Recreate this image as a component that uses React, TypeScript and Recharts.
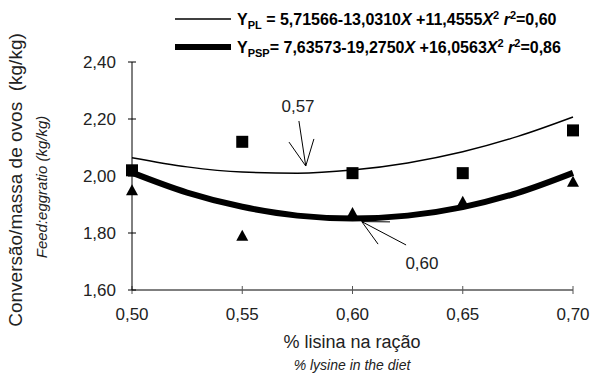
import { ComposedChart, Line, Scatter, XAxis, YAxis, ReferenceLine, ReferenceDot } from 'recharts';

const xTicks = [0.5, 0.55, 0.6, 0.65, 0.7];
const yTicks = [1.6, 1.8, 2.0, 2.2, 2.4];

// observed means
const lysine = [0.5, 0.55, 0.6, 0.65, 0.7];
const plObserved = [2.02, 2.12, 2.01, 2.01, 2.16];
const pspObserved = [1.95, 1.79, 1.87, 1.91, 1.98];

// fitted curves
const curveX = [0.5, 0.525, 0.55, 0.575, 0.6, 0.625, 0.65, 0.675, 0.7];
const plFitted = [2.064, 2.032, 2.014, 2.01, 2.021, 2.046, 2.085, 2.139, 2.207];
const pspFitted = [2.012, 1.942, 1.892, 1.861, 1.851, 1.861, 1.891, 1.941, 2.011];

// arrow annotations (data units): shaft, two head strokes, label
const plArrow = {
  shaft: [[0.5757, 2.193], [0.5788, 2.035]],
  heads: [[0.5712, 2.119], [0.5825, 2.13]],
  label: [0.5753, 2.246],
  text: '0,57',
};
const pspArrow = {
  shaft: [[0.6243, 1.758], [0.6042, 1.84]],
  heads: [[0.6116, 1.761], [0.617, 1.839]],
  label: [0.6315, 1.695],
  text: '0,60',
};

const FONT = '"Liberation Sans", Arial, sans-serif';
const comma = (v: number) => v.toFixed(2).replace('.', ',');

const toPts = (xs: number[], ys: number[]) => xs.map((x, i) => ({ x, y: ys[i] }));

const Square = (p: any) => <rect x={p.cx - 6} y={p.cy - 6} width={12} height={12} fill="#000" />;
const Triangle = (p: any) => (
  <polygon points={`${p.cx},${p.cy - 6} ${p.cx + 6},${p.cy + 5} ${p.cx - 6},${p.cy + 5}`} fill="#000" />
);

function arrowParts(a: typeof plArrow, key: string) {
  const tip = a.shaft[1];
  const seg = (p: number[], q: number[]) => [{ x: p[0], y: p[1] }, { x: q[0], y: q[1] }];
  return [
    <ReferenceLine key={key + 's'} segment={seg(a.shaft[0], tip)} stroke="#000" strokeWidth={1} ifOverflow="visible" />,
    ...a.heads.map((h, i) => (
      <ReferenceLine key={key + 'h' + i} segment={seg(h, tip)} stroke="#000" strokeWidth={1} ifOverflow="visible" />
    )),
    <ReferenceDot
      key={key + 't'}
      x={a.label[0]}
      y={a.label[1]}
      r={0}
      fill="none"
      stroke="none"
      ifOverflow="visible"
      label={{ value: a.text, position: 'center', fontSize: 17, fill: '#222', fontFamily: FONT }}
    />,
  ];
}

export default function App() {
  return (
    <div style={{ position: 'absolute', left: 0, top: 0, width: 611, height: 373, background: '#fff', fontFamily: FONT }}>
      <ComposedChart width={611} height={373} margin={{ top: 62, right: 38, bottom: 53, left: 72 }}>
        <XAxis
          type="number"
          dataKey="x"
          domain={[0.5, 0.7]}
          ticks={xTicks}
          tickFormatter={comma}
          height={30}
          tickSize={8}
          tickMargin={10}
          axisLine={{ stroke: '#000' }}
          tickLine={{ stroke: '#555', transform: 'translate(0,-4)' }}
          tick={{ fill: '#222', fontSize: 17, fontFamily: FONT }}
        />
        <YAxis
          type="number"
          domain={[1.6, 2.4]}
          ticks={yTicks}
          tickFormatter={comma}
          width={60}
          tickSize={8}
          tickMargin={8}
          axisLine={{ stroke: '#000' }}
          tickLine={{ stroke: '#000', transform: 'translate(4,0)' }}
          tick={{ fill: '#222', fontSize: 17, fontFamily: FONT }}
        />
        <Scatter data={toPts(lysine, plObserved)} dataKey="y" shape={Square} isAnimationActive={false} />
        <Scatter data={toPts(lysine, pspObserved)} dataKey="y" shape={Triangle} isAnimationActive={false} />
        <Line
          data={toPts(curveX, plFitted)}
          dataKey="y"
          type="monotone"
          stroke="#000"
          strokeWidth={1.5}
          dot={false}
          isAnimationActive={false}
        />
        <Line
          data={toPts(curveX, pspFitted)}
          dataKey="y"
          type="monotone"
          stroke="#000"
          strokeWidth={6}
          dot={false}
          isAnimationActive={false}
        />
        {arrowParts(plArrow, 'pl')}
        {arrowParts(pspArrow, 'psp')}
      </ComposedChart>

      <svg width={611} height={373} style={{ position: 'absolute', left: 0, top: 0, pointerEvents: 'none' }}>
        <g fontFamily={FONT} fill="#222">
          <text transform="translate(15,180) rotate(-90)" textAnchor="middle" dominantBaseline="central" fontSize={19}>
            {'Conversão/massa de ovos\u00a0\u00a0(kg/kg)'}
          </text>
          <text
            transform="translate(41,187) rotate(-90)"
            textAnchor="middle"
            dominantBaseline="central"
            fontSize={15}
            fontStyle="italic"
          >
            Feed:eggratio (kg/kg)
          </text>
          <text x={352} y={342} textAnchor="middle" dominantBaseline="central" fontSize={18}>
            % lisina na ração
          </text>
          <text x={352} y={365} textAnchor="middle" dominantBaseline="central" fontSize={14} fontStyle="italic">
            % lysine in the diet
          </text>
        </g>

        <line x1={175} x2={231} y1={19} y2={19} stroke="#000" strokeWidth={1.5} />
        <line x1={175} x2={231} y1={47} y2={47} stroke="#000" strokeWidth={6} />
        <g fontFamily={FONT} fontWeight="bold" fontSize={16} fill="#000">
          <text x={237} y={25}>
            Y<tspan fontSize={11} dy={4}>PL</tspan>
            <tspan dy={-4}> = 5,71566-13,0310</tspan>
            <tspan fontStyle="italic">X</tspan>
            <tspan> +11,4555</tspan>
            <tspan fontStyle="italic">X</tspan>
            <tspan fontSize={11} dy={-6}>2</tspan>
            <tspan dy={6}> </tspan>
            <tspan fontStyle="italic">r</tspan>
            <tspan fontSize={11} dy={-6}>2</tspan>
            <tspan dy={6}>=0,60</tspan>
          </text>
          <text x={237} y={53}>
            Y<tspan fontSize={11} dy={4}>PSP</tspan>
            <tspan dy={-4}>= 7,63573-19,2750</tspan>
            <tspan fontStyle="italic">X</tspan>
            <tspan> +16,0563</tspan>
            <tspan fontStyle="italic">X</tspan>
            <tspan fontSize={11} dy={-6}>2</tspan>
            <tspan dy={6}> </tspan>
            <tspan fontStyle="italic">r</tspan>
            <tspan fontSize={11} dy={-6}>2</tspan>
            <tspan dy={6}>=0,86</tspan>
          </text>
        </g>
      </svg>
    </div>
  );
}
